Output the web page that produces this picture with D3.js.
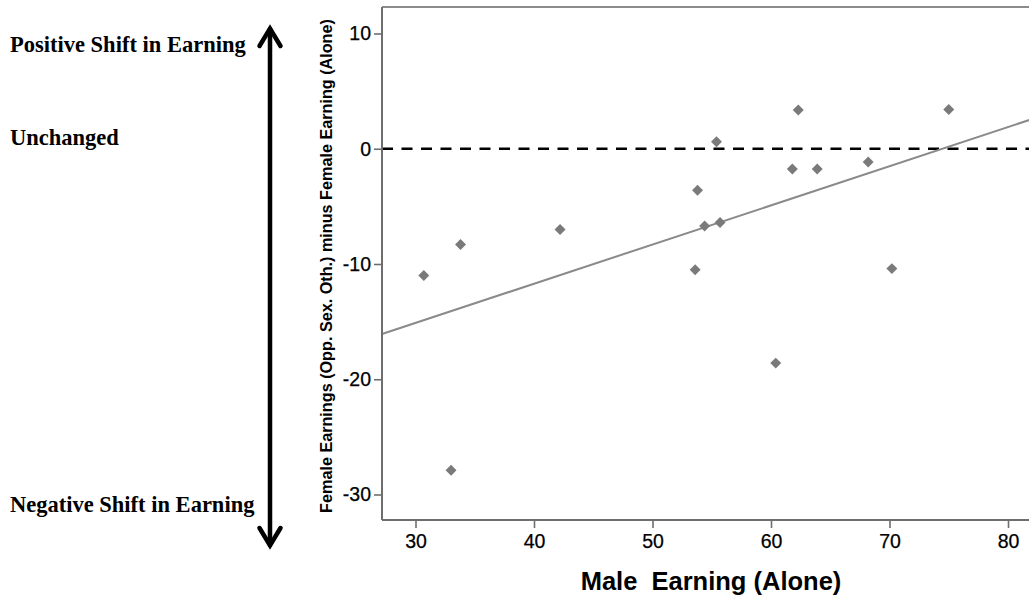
<!DOCTYPE html>
<html>
<head>
<meta charset="utf-8">
<script src="https://cdn.jsdelivr.net/npm/d3@7"></script>
<style>
  html, body { margin: 0; padding: 0; background: #fff; }
  svg { display: block; }
</style>
</head>
<body>
<svg id="chart" width="1029" height="596"></svg>
<script>
// Male earning when alone (x) vs. change in female earning (y)
const maleEarning = [30.7, 33.8, 33.0, 42.2, 53.6, 53.8, 54.4, 55.7, 55.4, 60.4, 61.8, 62.3, 63.9, 68.2, 70.2, 75.0];
const femaleShift = [-11.0, -8.3, -27.9, -7.0, -10.5, -3.6, -6.7, -6.4, 0.6, -18.6, -1.76, 3.36, -1.76, -1.15, -10.4, 3.4];
const xTicks = [30, 40, 50, 60, 70, 80];
const yTicks = [10, 0, -10, -20, -30];
const sideLabels = ["Positive Shift in Earning", "Unchanged", "Negative Shift in Earning"];

const svg = d3.select("#chart");
const frame = { left: 382, top: 7, right: 1045, bottom: 520 };

const x = d3.scaleLinear().domain([30, 80]).range([415.5, 1008]);
const y = d3.scaleLinear().domain([10, -30]).range([33.5, 494.5]);

const axisColor = "#6e6e6e";
const markColor = "#7a7a7a";
const sans = "'Liberation Sans', Arial, sans-serif";

// plot frame (top border; left/bottom come from the axes)
svg.append("line")
  .attr("x1", frame.left).attr("x2", frame.right)
  .attr("y1", frame.top).attr("y2", frame.top)
  .attr("stroke", "#8c8c8c").attr("stroke-width", 2);

// reference line at zero
svg.append("line")
  .attr("x1", frame.left).attr("x2", frame.right)
  .attr("y1", y(0)).attr("y2", y(0))
  .attr("stroke", "#000").attr("stroke-width", 2.5)
  .attr("stroke-dasharray", "11,8.5");

// least-squares fit line
const mx = d3.mean(maleEarning), my = d3.mean(femaleShift);
let sxy = 0, sxx = 0;
maleEarning.forEach((v, i) => { sxy += (v - mx) * (femaleShift[i] - my); sxx += (v - mx) * (v - mx); });
const slope = sxy / sxx, intercept = my - slope * mx;
const xLo = x.invert(frame.left), xHi = x.invert(frame.right);
svg.append("line")
  .attr("x1", x(xLo)).attr("y1", y(intercept + slope * xLo))
  .attr("x2", x(xHi)).attr("y2", y(intercept + slope * xHi))
  .attr("stroke", "#8a8a8a").attr("stroke-width", 2);

// points as diamonds
const diamond = d3.symbol().type(d3.symbolSquare).size(60);
svg.append("g").selectAll("path")
  .data(maleEarning.map((v, i) => [v, femaleShift[i]]))
  .join("path")
  .attr("d", diamond)
  .attr("transform", d => `translate(${x(d[0])},${y(d[1])}) rotate(45)`)
  .attr("fill", markColor);

// axes (plain hyphen for negatives)
const fmt = d => String(d);
const xAxis = svg.append("g")
  .attr("transform", `translate(0,${frame.bottom})`)
  .call(d3.axisBottom(x).tickValues(xTicks).tickFormat(fmt).tickSize(8).tickPadding(6).tickSizeOuter(0));
xAxis.select(".domain").attr("d", `M${frame.left},0H${frame.right}`);

const yAxis = svg.append("g")
  .attr("transform", `translate(${frame.left},0)`)
  .call(d3.axisLeft(y).tickValues(yTicks).tickFormat(fmt).tickSize(8).tickPadding(3).tickSizeOuter(0));
yAxis.select(".domain").attr("d", `M0,${frame.top}V${frame.bottom}`);

[xAxis, yAxis].forEach(g => {
  g.select(".domain").attr("stroke", axisColor).attr("stroke-width", 2);
  g.selectAll(".tick line").attr("stroke", axisColor).attr("stroke-width", 1.6);
  g.selectAll(".tick text")
    .attr("fill", "#000")
    .attr("font-family", sans)
    .attr("font-size", 19.5)
    .attr("stroke", "#000").attr("stroke-width", 0.25);
});

// axis titles
svg.append("text")
  .attr("x", 711).attr("y", 590)
  .attr("text-anchor", "middle")
  .attr("font-family", sans)
  .attr("font-weight", "bold").attr("font-size", 25.5)
  .attr("fill", "#000")
  .style("white-space", "pre")
  .text("Male  Earning (Alone)");

svg.append("text")
  .attr("transform", `translate(332,266) rotate(-90)`)
  .attr("text-anchor", "middle")
  .attr("font-family", sans)
  .attr("font-weight", "bold").attr("font-size", 16.2)
  .attr("fill", "#000")
  .text("Female Earnings (Opp. Sex. Oth.) minus Female Earning (Alone)");

// side annotations
const sideY = [52, 145, 512];
svg.append("g").selectAll("text")
  .data(sideLabels)
  .join("text")
  .attr("x", 10).attr("y", (d, i) => sideY[i])
  .attr("font-family", "'Liberation Serif', 'Times New Roman', serif")
  .attr("font-weight", "bold").attr("font-size", 22.5)
  .attr("fill", "#000")
  .text(d => d);

// double-headed arrow
const arrow = svg.append("g")
  .attr("stroke", "#000").attr("stroke-width", 4.5)
  .attr("fill", "none").attr("stroke-linecap", "round").attr("stroke-linejoin", "miter");
arrow.append("line").attr("x1", 270).attr("x2", 270).attr("y1", 29).attr("y2", 545);
arrow.append("polyline").attr("points", "259.5,46 270,28.5 280.5,46");
arrow.append("polyline").attr("points", "259.5,528 270,545.5 280.5,528");
</script>
</body>
</html>
